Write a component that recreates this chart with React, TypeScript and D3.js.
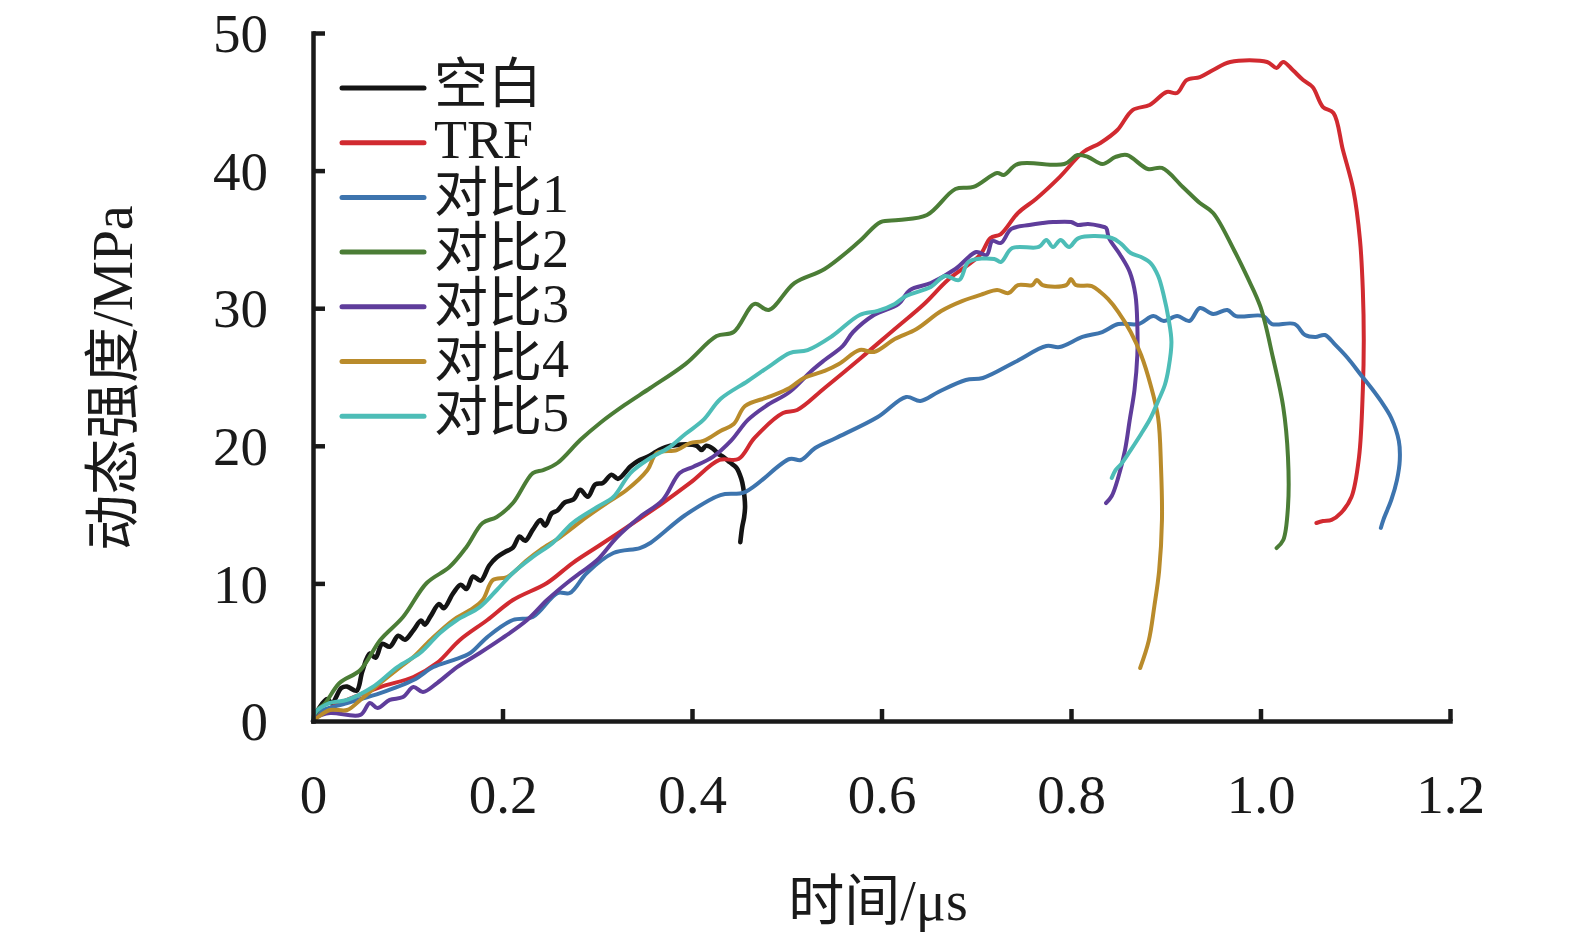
import React, { useRef, useEffect } from 'react';
import * as d3 from 'd3';

// 时间 (μs) / 动态强度 (MPa)
const blank: [number, number][] = [
  [0, 0], [0.007, 1.0], [0.015, 1.6], [0.02, 1.3], [0.03, 2.4], [0.036, 2.5], [0.046, 2.2], [0.052, 3.6],
  [0.06, 4.9], [0.066, 4.6], [0.073, 5.6], [0.081, 5.4], [0.09, 6.2], [0.097, 5.9], [0.106, 6.6], [0.114, 7.3],
  [0.118, 7.0], [0.124, 7.6], [0.133, 8.5], [0.138, 8.2], [0.148, 9.3], [0.156, 9.9], [0.162, 9.6], [0.169, 10.5],
  [0.177, 10.2], [0.186, 11.3], [0.194, 11.9], [0.203, 12.3], [0.211, 12.6], [0.218, 13.4], [0.224, 13.1],
  [0.232, 13.9], [0.24, 14.6], [0.245, 14.2], [0.252, 15.1], [0.258, 15.3], [0.266, 15.9], [0.275, 16.1],
  [0.282, 16.8], [0.29, 16.3], [0.298, 17.2], [0.306, 17.3], [0.315, 17.9], [0.322, 17.6], [0.335, 18.5],
  [0.343, 18.9], [0.353, 19.2], [0.363, 19.6], [0.372, 19.9], [0.395, 20.1], [0.405, 20.0], [0.41, 19.7],
  [0.415, 20.0], [0.422, 19.8], [0.428, 19.4], [0.433, 19.2], [0.44, 18.8], [0.447, 18.4], [0.452, 17.6],
  [0.454, 17.0], [0.456, 15.6], [0.455, 14.8], [0.453, 14.1], [0.451, 13.0],
];

const trf: [number, number][] = [
  [0, 0], [0.004, 0.36], [0.018, 0.94], [0.036, 1.53], [0.071, 2.47], [0.106, 3.2], [0.131, 4.22], [0.155, 5.89],
  [0.184, 7.34], [0.211, 8.79], [0.247, 10.03], [0.274, 11.48], [0.303, 12.79], [0.338, 14.39], [0.369, 15.84],
  [0.398, 17.3], [0.429, 18.97], [0.449, 19.04], [0.466, 20.57], [0.496, 22.38], [0.511, 22.6], [0.54, 24.2],
  [0.577, 26.31], [0.614, 28.49], [0.645, 30.31], [0.67, 32.05], [0.704, 33.87], [0.715, 35.1], [0.726, 35.39],
  [0.744, 36.92], [0.763, 37.94], [0.788, 39.53], [0.813, 41.35], [0.831, 42.01], [0.849, 42.95], [0.865, 44.4],
  [0.883, 44.77], [0.901, 45.71], [0.912, 45.64], [0.922, 46.58], [0.936, 46.8], [0.95, 47.31], [0.968, 47.89],
  [1.007, 47.89], [1.017, 47.46], [1.024, 47.89], [1.034, 47.31], [1.045, 46.58], [1.055, 46.08], [1.066, 44.62],
  [1.077, 44.19], [1.087, 41.49], [1.098, 38.59], [1.105, 34.96], [1.108, 31.32], [1.109, 27.69], [1.108, 24.06],
  [1.104, 19.19], [1.096, 16.28], [1.085, 15.12], [1.075, 14.61], [1.066, 14.53], [1.059, 14.39],
];

const cmp1: [number, number][] = [
  [0, 0], [0.004, 0.58], [0.036, 1.31], [0.071, 2.03], [0.106, 2.98], [0.127, 3.92], [0.148, 4.43], [0.166, 4.94],
  [0.184, 6.1], [0.211, 7.34], [0.232, 7.56], [0.258, 9.3], [0.271, 9.3], [0.289, 10.76], [0.317, 12.21],
  [0.345, 12.57], [0.356, 12.94], [0.393, 14.97], [0.43, 16.42], [0.456, 16.64], [0.503, 19.04], [0.515, 18.97],
  [0.53, 19.84], [0.552, 20.57], [0.596, 22.09], [0.626, 23.55], [0.641, 23.26], [0.66, 23.91], [0.689, 24.78],
  [0.707, 24.93], [0.741, 26.09], [0.774, 27.25], [0.788, 27.18], [0.812, 27.91], [0.833, 28.27], [0.85, 28.85],
  [0.871, 28.85], [0.887, 29.43], [0.898, 29.07], [0.912, 29.43], [0.925, 29.07], [0.936, 30.01], [0.95, 29.58],
  [0.965, 29.87], [0.974, 29.43], [1.003, 29.43], [1.012, 28.85], [1.036, 28.85], [1.047, 28.05], [1.058, 27.91],
  [1.068, 28.05], [1.079, 27.33], [1.092, 26.38], [1.106, 25.15], [1.117, 24.2], [1.127, 23.26], [1.138, 22.02],
  [1.146, 20.35], [1.147, 18.97], [1.144, 17.51], [1.138, 16.06], [1.13, 14.68], [1.127, 14.03],
];

const cmp2: [number, number][] = [
  [0, 0], [0.005, 0.8], [0.013, 1.31], [0.028, 2.76], [0.05, 3.71], [0.071, 5.89], [0.095, 7.56], [0.12, 10.03],
  [0.144, 11.19], [0.162, 12.65], [0.179, 14.39], [0.194, 14.83], [0.211, 15.84], [0.232, 18.02], [0.243, 18.24],
  [0.258, 18.75], [0.282, 20.42], [0.303, 21.66], [0.329, 22.97], [0.356, 24.2], [0.393, 25.94], [0.426, 27.98],
  [0.444, 28.27], [0.466, 30.31], [0.481, 29.87], [0.508, 31.83], [0.54, 32.85], [0.577, 34.88], [0.599, 36.26],
  [0.618, 36.41], [0.648, 36.77], [0.678, 38.66], [0.697, 38.81], [0.722, 39.83], [0.729, 39.68], [0.744, 40.48],
  [0.793, 40.48], [0.807, 41.13], [0.818, 40.99], [0.833, 40.48], [0.847, 40.99], [0.859, 41.13], [0.881, 40.12],
  [0.896, 40.19], [0.918, 38.81], [0.936, 37.64], [0.95, 36.92], [0.972, 34.23], [0.986, 32.27], [1.0, 30.09],
  [1.013, 26.45], [1.024, 22.82], [1.029, 19.19], [1.029, 15.55], [1.024, 13.15], [1.017, 12.57],
];

const cmp3: [number, number][] = [
  [0, 0], [0.004, 0.29], [0.018, 0.58], [0.05, 0.44], [0.06, 1.31], [0.068, 0.94], [0.081, 1.53], [0.095, 1.74],
  [0.106, 2.47], [0.116, 2.11], [0.131, 2.76], [0.152, 3.92], [0.176, 4.94], [0.197, 5.89], [0.226, 7.34],
  [0.247, 8.79], [0.268, 10.03], [0.282, 10.76], [0.3, 11.7], [0.321, 13.37], [0.345, 14.83], [0.369, 16.06],
  [0.387, 18.02], [0.401, 18.46], [0.422, 19.19], [0.441, 20.35], [0.459, 21.88], [0.478, 22.89], [0.503, 23.91],
  [0.526, 25.44], [0.54, 26.24], [0.559, 27.25], [0.57, 28.27], [0.592, 29.51], [0.618, 30.31], [0.63, 31.32],
  [0.652, 31.83], [0.678, 32.85], [0.7, 34.08], [0.711, 33.87], [0.717, 34.88], [0.726, 34.74], [0.737, 35.76],
  [0.756, 36.05], [0.77, 36.19], [0.781, 36.26], [0.8, 36.26], [0.807, 36.05], [0.818, 36.12], [0.831, 35.97],
  [0.837, 35.83], [0.84, 35.1], [0.852, 33.87], [0.862, 32.63], [0.868, 30.96], [0.87, 28.78], [0.87, 26.6],
  [0.867, 24.06], [0.862, 21.88], [0.857, 19.69], [0.85, 17.73], [0.843, 16.35], [0.837, 15.84],
];

const cmp4: [number, number][] = [
  [0, 0], [0.004, 0.22], [0.018, 0.8], [0.036, 0.8], [0.05, 1.53], [0.071, 2.76], [0.092, 3.92], [0.106, 4.65],
  [0.124, 5.89], [0.148, 7.34], [0.166, 8.07], [0.179, 8.79], [0.19, 10.25], [0.205, 10.47], [0.226, 11.7],
  [0.24, 12.43], [0.261, 13.37], [0.289, 14.83], [0.31, 15.84], [0.331, 16.79], [0.353, 18.24], [0.363, 19.48],
  [0.384, 19.69], [0.398, 20.2], [0.412, 20.35], [0.43, 21.08], [0.444, 21.58], [0.456, 22.89], [0.481, 23.55],
  [0.503, 24.2], [0.518, 24.93], [0.54, 25.44], [0.555, 25.94], [0.577, 26.96], [0.592, 26.82], [0.614, 27.76],
  [0.637, 28.49], [0.663, 29.8], [0.685, 30.52], [0.707, 31.03], [0.722, 31.32], [0.734, 31.1], [0.744, 31.68],
  [0.759, 31.68], [0.764, 32.05], [0.77, 31.68], [0.795, 31.68], [0.8, 32.12], [0.805, 31.68], [0.822, 31.61],
  [0.831, 31.18], [0.839, 30.67], [0.85, 29.72], [0.863, 28.27], [0.874, 26.6], [0.884, 24.42], [0.892, 22.02],
  [0.895, 18.46], [0.896, 14.61], [0.893, 10.9], [0.888, 8.36], [0.882, 5.81], [0.873, 3.85],
];

const cmp5: [number, number][] = [
  [0, 0], [0.002, 0.58], [0.018, 1.31], [0.036, 1.53], [0.063, 2.47], [0.089, 3.92], [0.113, 4.94], [0.134, 6.4],
  [0.152, 7.34], [0.176, 8.28], [0.194, 9.52], [0.211, 10.76], [0.232, 11.92], [0.253, 12.94], [0.274, 14.39],
  [0.3, 15.55], [0.317, 16.28], [0.335, 18.02], [0.356, 19.11], [0.375, 19.84], [0.393, 20.86], [0.412, 21.88],
  [0.43, 23.4], [0.459, 24.71], [0.485, 25.94], [0.503, 26.74], [0.522, 26.96], [0.548, 27.98], [0.577, 29.51],
  [0.596, 29.8], [0.614, 30.31], [0.626, 30.89], [0.652, 31.54], [0.667, 32.34], [0.682, 32.05], [0.692, 33.36],
  [0.719, 33.58], [0.726, 33.36], [0.738, 34.37], [0.766, 34.45], [0.774, 34.96], [0.781, 34.45], [0.789, 34.96],
  [0.798, 34.45], [0.808, 35.1], [0.843, 35.1], [0.853, 34.67], [0.863, 34.01], [0.874, 33.72], [0.884, 33.28],
  [0.892, 32.34], [0.898, 30.89], [0.903, 29.21], [0.906, 27.54], [0.903, 25.65], [0.899, 24.42], [0.892, 23.26],
  [0.884, 22.02], [0.874, 20.86], [0.863, 19.69], [0.853, 18.68], [0.847, 18.24], [0.843, 17.66],
];

const seriesNames = ['空白', 'TRF', '对比1', '对比2', '对比3', '对比4', '对比5'];
const seriesData = [blank, trf, cmp1, cmp2, cmp3, cmp4, cmp5];
const seriesColors = ['#141414', '#d12a30', '#3d74ae', '#4b7d36', '#5f3d9b', '#b98b2b', '#4dbdb7'];

const xTicks = [0, 0.2, 0.4, 0.6, 0.8, 1.0, 1.2];
const yTicks = [0, 10, 20, 30, 40, 50];

const FONT = '"Liberation Serif", "Times New Roman", "Noto Sans CJK SC", serif';

export default function App() {
  const ref = useRef<SVGSVGElement>(null);

  useEffect(() => {
    document.body.style.margin = '0';
    const svg = d3.select(ref.current);
    svg.selectAll('*').remove();

    const x = d3.scaleLinear().domain([0, 1.2]).range([313, 1450]);
    const y = d3.scaleLinear().domain([0, 50]).range([721, 33]);

    // 曲线
    const line = d3
      .line<[number, number]>()
      .x((d) => x(d[0]))
      .y((d) => y(d[1]))
      .curve(d3.curveCatmullRom.alpha(0.5));

    seriesData.forEach((data, i) => {
      svg
        .append('path')
        .datum(data)
        .attr('d', line)
        .attr('fill', 'none')
        .attr('stroke', seriesColors[i])
        .attr('stroke-width', i === 0 ? 4.6 : 4)
        .attr('stroke-linejoin', 'round')
        .attr('stroke-linecap', 'round');
    });

    // axes
    const xAxis = svg
      .append('g')
      .attr('transform', `translate(0,${y(0)})`)
      .call(
        d3.axisBottom(x)
          .tickValues(xTicks)
          .tickSizeInner(-12)
          .tickSizeOuter(0)
          .tickPadding(53)
          .tickFormat((d) => (d === 0 ? '0' : d3.format('.1f')(d as number)))
      );
    const yAxis = svg
      .append('g')
      .attr('transform', `translate(${x(0)},0)`)
      .call(
        d3.axisLeft(y)
          .tickValues(yTicks)
          .tickSizeInner(-12)
          .tickSizeOuter(0)
          .tickPadding(45)
      );

    [xAxis, yAxis].forEach((g) => {
      g.select('.domain').attr('stroke', '#1a1a1a').attr('stroke-width', 4.5).attr('stroke-linecap', 'square');
      g.selectAll('.tick line').attr('stroke', '#1a1a1a').attr('stroke-width', 4.5);
      g.selectAll('.tick text')
        .attr('fill', '#1a1a1a')
        .style('font-family', FONT)
        .style('font-size', '55px');
    });
    yAxis.selectAll('.tick').filter((d) => d === 0).select('line').remove();
    xAxis.selectAll('.tick').filter((d) => d === 0).select('line').remove();
    yAxis.selectAll('.tick text').attr('dy', '0.34em');

    // axis titles
    svg
      .append('text')
      .attr('x', 878)
      .attr('y', 920)
      .attr('text-anchor', 'middle')
      .style('font-family', FONT)
      .style('font-size', '56px')
      .attr('fill', '#1a1a1a')
      .text('时间/μs');

    svg
      .append('text')
      .attr('transform', 'translate(132,378) rotate(-90)')
      .attr('text-anchor', 'middle')
      .style('font-family', FONT)
      .style('font-size', '56px')
      .attr('fill', '#1a1a1a')
      .text('动态强度/MPa');

    // legend
    const legend = svg.append('g');
    seriesNames.forEach((name, i) => {
      const ly = 88 + i * 54.7;
      legend
        .append('line')
        .attr('x1', 342)
        .attr('x2', 424)
        .attr('y1', ly)
        .attr('y2', ly)
        .attr('stroke', seriesColors[i])
        .attr('stroke-width', 5)
        .attr('stroke-linecap', 'round');
      legend
        .append('text')
        .attr('x', 434)
        .attr('y', ly - 3)
        .attr('dominant-baseline', 'central')
        .style('font-family', FONT)
        .style('font-size', '54px')
        .attr('fill', '#1a1a1a')
        .text(name);
    });
  }, []);

  return (
    <svg ref={ref} width={1575} height={943} style={{ display: 'block', background: '#fff' }} />
  );
}
